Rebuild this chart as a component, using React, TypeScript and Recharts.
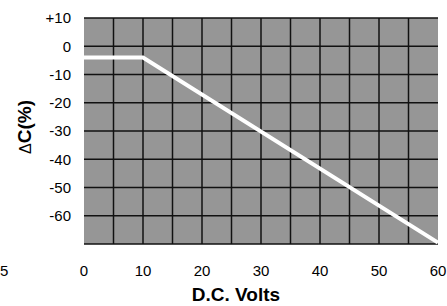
import React from 'react';
import { LineChart, Line, XAxis, YAxis, CartesianGrid, Label } from 'recharts';

// capacitance change vs applied DC voltage
const volts = [0, 10, 60];
const deltaC = [-4, -4, -69.5];

const X_TICKS = [0, 10, 20, 30, 40, 50, 60];
const Y_TICKS = [10, 0, -10, -20, -30, -40, -50, -60];
const X_GRID = [5, 10, 15, 20, 25, 30, 35, 40, 45, 50, 55];
const Y_GRID = [10, 5, 0, -5, -10, -15, -20, -25, -30, -35, -40, -45, -50, -55, -60, -65, -70];

const data = volts.map((v, i) => ({ v, c: deltaC[i] }));

const FONT = '"Liberation Sans", Arial, sans-serif';

export default function App() {
  return (
    <div style={{ position: 'absolute', left: 0, top: 0, width: 447, height: 306, background: 'white', fontFamily: FONT }}>
      <LineChart width={447} height={306} data={data} margin={{ top: 18, right: 9, left: 0, bottom: 0 }}>
        <CartesianGrid
          fill="#969696"
          fillOpacity={1}
          stroke="#111"
          strokeWidth={1.5}
          horizontalValues={Y_GRID}
          verticalValues={X_GRID}
        />
        <XAxis
          dataKey="v"
          type="number"
          domain={[0, 60]}
          ticks={X_TICKS}
          height={62}
          axisLine={false}
          tickLine={false}
          tickSize={0}
          tickMargin={21}
          tick={{ fontSize: 15, fill: '#000', fontFamily: FONT }}
        >
          <Label
            value="D.C. Volts"
            position="insideBottom"
            offset={5}
            dx={-25}
            style={{ fontSize: 19, fontWeight: 'bold', fill: '#000', fontFamily: FONT }}
          />
        </XAxis>
        <YAxis
          type="number"
          domain={[-70, 10]}
          ticks={Y_TICKS}
          width={84}
          axisLine={false}
          tickLine={false}
          tickSize={0}
          tickMargin={13}
          tickFormatter={(t: number) => (t > 0 ? `+${t}` : `${t}`)}
          tick={{ fontSize: 15, fill: '#000', fontFamily: FONT }}
        >
          <Label
            content={({ viewBox }: any) => {
              const cy = viewBox.y + viewBox.height / 2 - 4;
              return (
                <text
                  x={31}
                  y={cy}
                  transform={`rotate(-90, 31, ${cy})`}
                  textAnchor="middle"
                  style={{ fontSize: 19, fontWeight: 'bold', fill: '#000', fontFamily: FONT }}
                >
                  <tspan style={{ fontWeight: 'normal', fontSize: 16 }}>Δ</tspan>C(%)
                </text>
              );
            }}
          />
        </YAxis>
        <Line
          type="linear"
          dataKey="c"
          stroke="#fff"
          strokeWidth={4}
          dot={false}
          activeDot={false}
          isAnimationActive={false}
        />
      </LineChart>
      <div style={{ position: 'absolute', left: 0, top: 262, fontSize: 15, color: '#000', lineHeight: '17px' }}>5</div>
    </div>
  );
}
